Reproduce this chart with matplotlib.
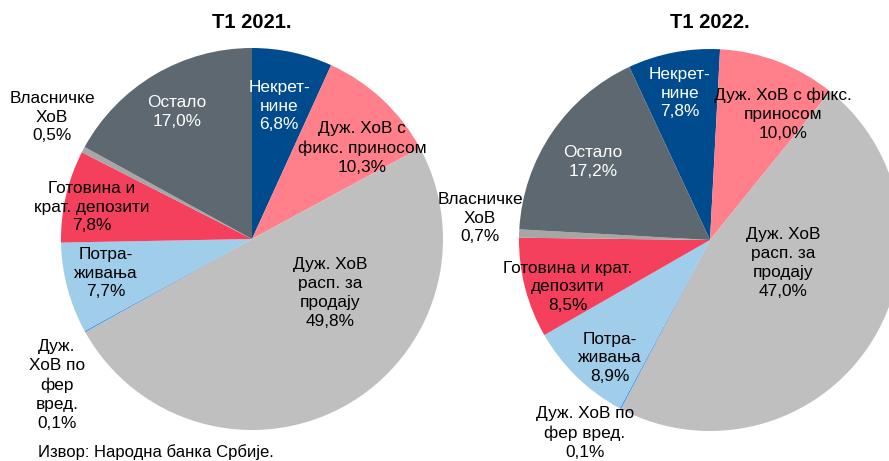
import matplotlib.pyplot as plt

plt.rcParams['font.family'] = ['Liberation Sans', 'DejaVu Sans']

# data
labels_2021 = ['Некрет-\nнине', 'Дуж. ХоВ с\nфикс. приносом', 'Дуж. ХоВ\nрасп. за\nпродају',
               'Дуж.\nХоВ по\nфер\nвред.', 'Потра-\nживања', 'Готовина и\nкрат. депозити',
               'Власничке\nХоВ', 'Остало']
values_2021 = [6.8, 10.3, 49.8, 0.1, 7.7, 7.8, 0.5, 17.0]

labels_2022 = ['Некрет-\nнине', 'Дуж. ХоВ с фикс.\nприносом', 'Дуж. ХоВ\nрасп. за\nпродају',
               'Дуж. ХоВ по\nфер вред.', 'Потра-\nживања', 'Готовина и крат.\nдепозити',
               'Власничке\nХоВ', 'Остало']
values_2022 = [7.8, 10.0, 47.0, 0.1, 8.9, 8.5, 0.7, 17.2]

colors = ['#004b8d', '#ff808b', '#bfbfbf', '#2e8ff0', '#9fcdea', '#f43f5d', '#a6a6a6', '#5d6870']
text_colors = ['white', 'black', 'black', 'black', 'black', 'black', 'black', 'white']

# layout (pixel coords, y from top)
W, H = 889, 461
pies = [
    dict(title='Т1 2021.', vals=values_2021, labs=labels_2021, cx=252, cy=239, r=191, start=90,
         pos=[(279, 106), (362, 148), (330, 293), (57, 385), (106, 273), (92, 207), (52, 117), (177, 112)]),
    dict(title='Т1 2022.', vals=values_2022, labs=labels_2022, cx=710, cy=240, r=191, start=115,
         pos=[(680, 93), (783, 114), (783, 263), (585, 433), (610, 358), (568, 287), (480, 218), (593, 162)]),
]

fig = plt.figure(figsize=(W / 100, H / 100), dpi=100)
ax = fig.add_axes([0, 0, 1, 1])

for p in pies:
    ax.pie(p['vals'], colors=colors, startangle=p['start'], counterclock=False,
           center=(p['cx'], H - p['cy']), radius=p['r'], normalize=True,
           wedgeprops=dict(linewidth=0))
    ax.text(p['cx'], H - 22, p['title'], ha='center', va='center',
            fontsize=14.5, fontweight='bold')
    for lab, v, (x, y), tc in zip(p['labs'], p['vals'], p['pos'], text_colors):
        ax.text(x, H - y, lab + '\n' + f'{v:.1f}%'.replace('.', ','),
                ha='center', va='center', fontsize=12.4, color=tc, linespacing=1.32)

ax.set_xlim(0, W)
ax.set_ylim(0, H)
ax.set_aspect('equal')
ax.axis('off')

ax.text(38, H - 444, 'Извор: Народна банка Србије.', ha='left', va='top', fontsize=12)

fig.savefig('out.png', dpi=100)
